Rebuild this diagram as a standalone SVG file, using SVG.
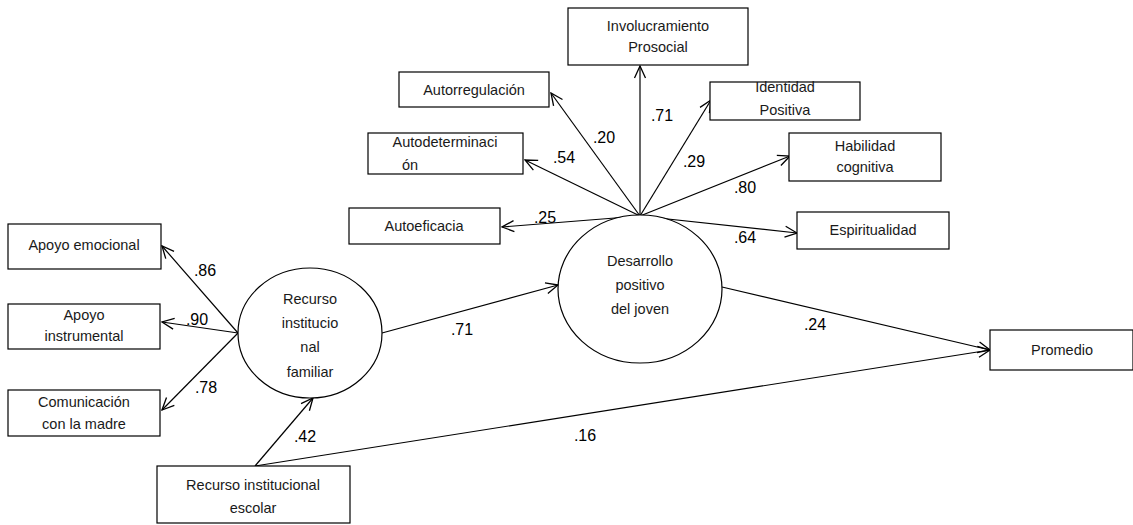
<svg xmlns="http://www.w3.org/2000/svg" width="1133" height="525" viewBox="0 0 1133 525">
<style>
.box{fill:#fff;stroke:#000;stroke-width:1.2}
.ell{fill:#fff;stroke:#000;stroke-width:1.2}
.t{font-family:"Liberation Sans",Arial,sans-serif;font-size:14.5px;fill:#1a1a1a;text-anchor:middle}
.n{font-family:"Liberation Sans",Arial,sans-serif;font-size:16px;fill:#000;text-anchor:middle}
.c{stroke:#000;stroke-width:1.2;fill:none;marker-end:url(#ah)}
</style>
<defs>
<marker id="ah" viewBox="0 0 14 14" refX="13" refY="7" markerWidth="14" markerHeight="14" markerUnits="userSpaceOnUse" orient="auto">
<path d="M1,1.5 L13,7 L1,12.5" fill="none" stroke="#000" stroke-width="1.3"/>
</marker>
</defs>
<g id="connectors">
<line class="c" x1="640" y1="216" x2="640" y2="66"/>
<line class="c" x1="640" y1="216" x2="551" y2="93"/>
<line class="c" x1="640" y1="216" x2="711" y2="100"/>
<line class="c" x1="640" y1="216" x2="525" y2="160"/>
<line class="c" x1="640" y1="216" x2="790" y2="156"/>
<line class="c" x1="640" y1="216" x2="502" y2="227"/>
<line class="c" x1="640" y1="216" x2="797" y2="233"/>
<line class="c" x1="238" y1="333" x2="162" y2="246"/>
<line class="c" x1="238" y1="333" x2="162" y2="322"/>
<line class="c" x1="238" y1="333" x2="162" y2="410"/>
<line class="c" x1="255" y1="466" x2="313" y2="398"/>
<line class="c" x1="255" y1="466" x2="990" y2="350"/>
<line class="c" x1="382" y1="333" x2="558" y2="285"/>
<line class="c" x1="722" y1="287" x2="990" y2="350"/>
<text class="n" x="662" y="121">.71</text>
<text class="n" x="604" y="143">.20</text>
<text class="n" x="694" y="167">.29</text>
<text class="n" x="564" y="163">.54</text>
<text class="n" x="745" y="193">.80</text>
<text class="n" x="545" y="223">.25</text>
<text class="n" x="745" y="243">.64</text>
<text class="n" x="205" y="276">.86</text>
<text class="n" x="197" y="325">.90</text>
<text class="n" x="206" y="393">.78</text>
<text class="n" x="305" y="442">.42</text>
<text class="n" x="585" y="441">.16</text>
<text class="n" x="462" y="335">.71</text>
<text class="n" x="815" y="330">.24</text>
</g>
<g id="involucramiento">
<rect class="box" x="568" y="8" width="180" height="57"/>
<text class="t" x="658" y="31">Involucramiento</text>
<text class="t" x="658" y="52">Prosocial</text>
</g>
<g id="autorregulacion">
<rect class="box" x="399" y="72" width="150" height="35"/>
<text class="t" x="474" y="95">Autorregulación</text>
</g>
<g id="identidad">
<rect class="box" x="710" y="82" width="150" height="38"/>
<text class="t" x="785" y="92">Identidad</text>
<text class="t" x="785" y="115">Positiva</text>
</g>
<g id="autodeterminacion">
<rect class="box" x="368" y="133" width="155" height="41"/>
<text class="t" x="445" y="147">Autodeterminaci</text>
<text class="t" x="410" y="170">ón</text>
</g>
<g id="habilidad">
<rect class="box" x="789" y="133" width="152" height="48"/>
<text class="t" x="865" y="151">Habilidad</text>
<text class="t" x="865" y="172">cognitiva</text>
</g>
<g id="autoeficacia">
<rect class="box" x="349" y="208" width="151" height="36"/>
<text class="t" x="424" y="231">Autoeficacia</text>
</g>
<g id="espiritualidad">
<rect class="box" x="797" y="212" width="152" height="37"/>
<text class="t" x="873" y="235">Espiritualidad</text>
</g>
<g id="apoyo-emocional">
<rect class="box" x="8" y="224" width="153" height="45"/>
<text class="t" x="84" y="250">Apoyo emocional</text>
</g>
<g id="apoyo-instrumental">
<rect class="box" x="8" y="304" width="152" height="45"/>
<text class="t" x="84" y="320">Apoyo</text>
<text class="t" x="84" y="341">instrumental</text>
</g>
<g id="comunicacion">
<rect class="box" x="8" y="390" width="152" height="46"/>
<text class="t" x="84" y="407">Comunicación</text>
<text class="t" x="84" y="429">con la madre</text>
</g>
<g id="recurso-escolar">
<rect class="box" x="157" y="466" width="193" height="57"/>
<text class="t" x="253" y="490">Recurso institucional</text>
<text class="t" x="253" y="513">escolar</text>
</g>
<g id="promedio">
<rect class="box" x="990" y="330" width="143" height="40"/>
<text class="t" x="1062" y="355">Promedio</text>
</g>
<g id="recurso-familiar">
<ellipse class="ell" cx="310" cy="333" rx="72" ry="65"/>
<text class="t" x="310" y="304">Recurso</text>
<text class="t" x="310" y="328">institucio</text>
<text class="t" x="310" y="352">nal</text>
<text class="t" x="310" y="377">familiar</text>
</g>
<g id="desarrollo">
<ellipse class="ell" cx="640" cy="289" rx="82" ry="74"/>
<text class="t" x="640" y="266">Desarrollo</text>
<text class="t" x="640" y="290">positivo</text>
<text class="t" x="640" y="314">del joven</text>
</g>
</svg>
